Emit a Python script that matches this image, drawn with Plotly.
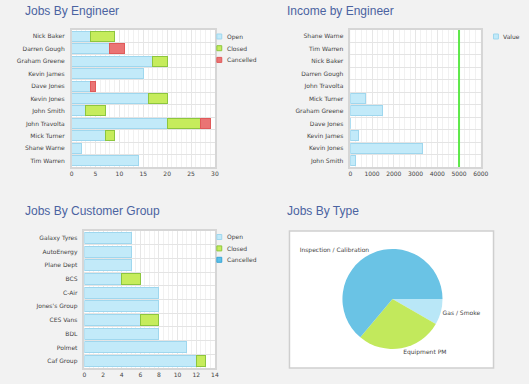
import plotly.graph_objects as go

W, H = 529, 384

# ---------------- data ----------------
eng_names = ["Nick Baker", "Darren Gough", "Graham Greene", "Kevin James", "Dave Jones",
             "Kevin Jones", "John Smith", "John Travolta", "Mick Turner", "Shane Warne", "Tim Warren"]
eng_open = [4, 8, 17, 15, 4, 16, 3, 20, 7, 2, 14]
eng_closed = [5, 0, 3, 0, 0, 4, 4, 7, 2, 0, 0]
eng_cancelled = [0, 3, 0, 0, 1, 0, 0, 2, 0, 0, 0]

inc_names = ["Shane Warne", "Tim Warren", "Nick Baker", "Darren Gough", "John Travolta",
             "Mick Turner", "Graham Greene", "Dave Jones", "Kevin James", "Kevin Jones", "John Smith"]
inc_values = [0, 0, 0, 0, 0, 720, 1500, 30, 390, 3300, 250]
inc_target = 5000

cust_names = ["Galaxy Tyres", "AutoEnergy", "Plane Dept", "BCS", "C-Air", "Jones's Group",
              "CES Vans", "BDL", "Polmet", "Caf Group"]
cust_open = [5, 5, 5, 4, 8, 8, 6, 8, 11, 12]
cust_closed = [0, 0, 0, 2, 0, 0, 2, 0, 0, 1]
cust_cancelled = [0, 0, 0, 0, 0, 0, 0, 0, 0, 0]

type_labels = ["Gas / Smoke", "Equipment PM", "Inspection / Calibration"]
type_values = [3, 10, 23]

# ---------------- styles ----------------
C_OPEN, L_OPEN = "#c2eaf9", "#9fd7ee"
C_CLOSED, L_CLOSED = "#c6ec5c", "#8dc63f"
C_CANC, L_CANC = "#ea7474", "#e05a5a"
C_CANC2, L_CANC2 = "#5cc0e8", "#3aa6d6"
TITLE_FONT = dict(family="Liberation Sans, Arial", size=12, color="#4b63a1")
TICK_FONT = dict(family="DejaVu Sans", size=6, color="#444444")

def px(xp):
    return xp / W

def py(yp):
    return 1 - yp / H

fig = go.Figure()

def hbar(vals, name, color, line, xa, ya):
    # zero-length segments are left empty so no outline is drawn for them
    fig.add_trace(go.Bar(
        x=[v if v else None for v in vals], y=list(range(len(vals))), orientation="h", name=name,
        marker=dict(color=color, line=dict(color=line, width=1)),
        width=0.8, xaxis=xa, yaxis=ya, showlegend=False, hoverinfo="x+name"))

# Chart 1: Jobs By Engineer
hbar(eng_open, "Open", C_OPEN, L_OPEN, "x", "y")
hbar(eng_closed, "Closed", C_CLOSED, L_CLOSED, "x", "y")
hbar(eng_cancelled, "Cancelled", C_CANC, L_CANC, "x", "y")

# Chart 2: Income by Engineer
hbar(inc_values, "Value", C_OPEN, L_OPEN, "x2", "y2")
fig.add_trace(go.Scatter(
    x=[inc_target, inc_target], y=[-0.5, len(inc_names) - 0.5], mode="lines",
    line=dict(color="#5ee84a", width=2), xaxis="x2", yaxis="y2",
    showlegend=False, hoverinfo="skip"))

# Chart 3: Jobs By Customer Group
hbar(cust_open, "Open", C_OPEN, L_OPEN, "x3", "y3")
hbar(cust_closed, "Closed", C_CLOSED, L_CLOSED, "x3", "y3")
hbar(cust_cancelled, "Cancelled", C_CANC2, L_CANC2, "x3", "y3")

# Chart 4: Jobs By Type
fig.add_trace(go.Pie(
    labels=type_labels, values=type_values, sort=False, direction="clockwise",
    rotation=90, textinfo="label", textposition="outside",
    textfont=TICK_FONT, outsidetextfont=TICK_FONT,
    marker=dict(colors=["#b9e7f7", "#c2e95c", "#6ac3e5"], line=dict(width=0)),
    domain=dict(x=[px(347), px(449)], y=[py(350), py(248)]),
    showlegend=False))

def xaxis_cfg(dom, rng, dtick, minor, anchor):
    return dict(domain=dom, range=rng, dtick=dtick, anchor=anchor,
                showgrid=True, gridcolor="#e6e6e6", gridwidth=1,
                minor=dict(dtick=minor, showgrid=True, gridcolor="#f1f1f1", gridwidth=1),
                showline=True, mirror=True, linecolor="#d6d6d6", linewidth=1.5,
                zeroline=False, tickfont=TICK_FONT, ticks="", fixedrange=True)

def yaxis_cfg(dom, names, anchor):
    n = len(names)
    return dict(domain=dom, range=[n - 0.5, -0.5], tickmode="array",
                tickvals=list(range(n)), ticktext=names, anchor=anchor,
                showgrid=False,
                minor=dict(tickmode="linear", tick0=0.5, dtick=1, showgrid=True,
                           gridcolor="#e4e4e4", gridwidth=1),
                showline=True, mirror=True, linecolor="#d6d6d6", linewidth=1.5,
                zeroline=False, tickfont=TICK_FONT, ticks="", ticklabelstandoff=4,
                fixedrange=True)

shapes = [
    dict(type="rect", xref="paper", yref="paper", x0=px(293), x1=px(501),
         y0=py(368), y1=py(231), fillcolor="white", line=dict(color="#cfcfcf", width=1.5),
         layer="below"),
]
annotations = []

def title(text, xp, yp):
    annotations.append(dict(text=text, x=px(xp), y=py(yp), xref="paper", yref="paper",
                            xanchor="left", yanchor="middle", showarrow=False, font=TITLE_FONT))

title("Jobs By Engineer", 21, 11)
title("Income by Engineer", 288, 11)
title("Jobs By Customer Group", 21, 211)
title("Jobs By Type", 288, 211)

def legend(items, xp, yp, step):
    for i, (name, color, line) in enumerate(items):
        yc = yp + i * step
        shapes.append(dict(type="rect", xref="paper", yref="paper",
                           x0=px(xp), x1=px(xp + 5), y0=py(yc + 2.5), y1=py(yc - 2.5),
                           fillcolor=color, line=dict(color=line, width=1)))
        annotations.append(dict(text=name, x=px(xp + 8), y=py(yc), xref="paper", yref="paper",
                                xanchor="left", yanchor="middle", showarrow=False, font=TICK_FONT))

legend([("Open", C_OPEN, L_OPEN), ("Closed", C_CLOSED, L_CLOSED), ("Cancelled", C_CANC, L_CANC)],
       219, 36.5, 11.7)
legend([("Value", C_OPEN, L_OPEN)], 501, 36.5, 11.7)
legend([("Open", C_OPEN, L_OPEN), ("Closed", C_CLOSED, L_CLOSED), ("Cancelled", C_CANC2, L_CANC2)],
       219, 237, 11.4)

fig.update_layout(
    width=W, height=H, margin=dict(l=0, r=0, t=0, b=0),
    paper_bgcolor="#f2f2f2", plot_bgcolor="white",
    barmode="stack", bargap=0.2, showlegend=False,
    xaxis=xaxis_cfg([px(71), px(217)], [0, 30], 5, 1, "y"),
    yaxis=yaxis_cfg([py(167), py(30)], eng_names, "x"),
    xaxis2=xaxis_cfg([px(355), px(488)], [0, 6000], 1000, 250, "y2"),
    yaxis2=yaxis_cfg([py(167), py(30)], inc_names, "x2"),
    xaxis3=xaxis_cfg([px(84), px(217)], [0, 14], 2, 0.5, "y3"),
    yaxis3=yaxis_cfg([py(368), py(231)], cust_names, "x3"),
    shapes=shapes, annotations=annotations,
    font=dict(family="DejaVu Sans", size=6, color="#444444"),
)

fig.write_html(
    "out.html",
    config={"responsive": False, "displayModeBar": False},
    post_script="document.body.style.margin='0';document.body.style.overflow='hidden';",
)
